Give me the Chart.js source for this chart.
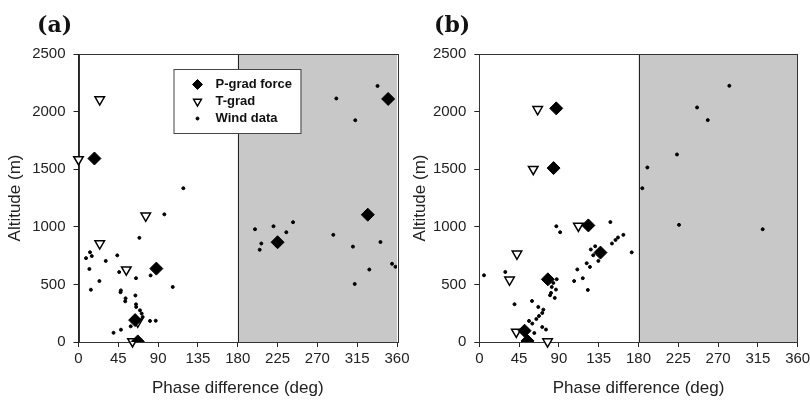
<!DOCTYPE html>
<html>
<head>
<meta charset="utf-8">
<script src="https://cdn.jsdelivr.net/npm/chart.js@4.4.0/dist/chart.umd.min.js"></script>
<style>
  body { margin: 0; background: #fff; width: 810px; height: 402px; position: relative; overflow: hidden; }
  canvas { position: absolute; top: 0; }
  .tag { position: absolute; top: 11px; font: bold 22px "DejaVu Serif", serif; line-height: 26px; color: #111; }
</style>
</head>
<body>
<!-- the canvases overlap a little so the last phase label of (a) is not cut -->
<canvas id="chartA" width="420" height="402" style="left:0"></canvas>
<canvas id="chartB" width="405" height="402" style="left:405px"></canvas>
<div class="tag" style="left:37px">(a)</div>
<div class="tag" style="left:434px">(b)</div>
<script>
// phase axis ticks and the out-of-phase band
const phaseTicks = [0, 45, 90, 135, 180, 225, 270, 315, 360];
const altTicks = [0, 500, 1000, 1500, 2000, 2500];
const bandFrom = 180;
const bandTo = 360;

// (a) pressure-gradient force
const aPGradPhase = [18, 88, 64, 67, 225, 327, 350];
const aPGradAlt   = [1593, 637, 190, 5, 866, 1105, 2110];
// (a) temperature gradient
const aTGradPhase = [24, 0, 76, 24, 54, 67, 61];
const aTGradAlt   = [2105, 1585, 1095, 855, 628, 175, 5];
// (a) wind observations
const aWindPhase = [118.5, 97, 68.8, 13, 15, 8.5, 30.8, 43.8, 12.3, 46, 23.6, 65, 81.5, 106.5, 14,
                    47.9, 47.5, 53.2, 52.8, 64.3, 65, 65.2, 69.5, 71.4, 72.5, 80.8, 87.3, 59, 48, 39.6,
                    199.5, 206.6, 204.8, 220.4, 234.9, 242.5, 288, 291.4, 312.8, 338, 310.2, 341.3,
                    328.7, 312.2, 354.4, 358.3];
const aWindAlt   = [1335, 1108, 904, 779, 746, 728, 704, 752, 634, 607, 529, 554, 578, 478, 454,
                    448, 432, 379, 353, 404, 327, 304, 275, 247, 217, 183, 185, 136, 107, 80,
                    979, 855, 801, 1005, 953, 1040, 930, 2114, 1925, 2223, 828, 868,
                    629, 504, 679, 653];

// (b) pressure-gradient force
const bPGradPhase = [87, 84, 123.3, 137, 77.5, 51.2, 54.5];
const bPGradAlt   = [2028, 1510, 1012, 776, 544, 98, 9];
// (b) temperature gradient
const bTGradPhase = [66, 61, 112, 42.6, 34.2, 41.8, 77.2];
const bTGradAlt   = [2020, 1500, 1008, 765, 540, 87, 4];
// (b) wind observations
const bWindPhase = [5.3, 29.4, 39.8, 59.6, 66.7, 72.4, 71.2, 67.5, 64.5, 59.9, 56.2, 62.2, 71.2, 75.4,
                    87.5, 83.7, 81.9, 86.7, 81.1, 85.3, 80, 87.1, 91.4, 107.2, 110.8, 117, 122.7,
                    121.4, 125.1, 126.1, 131, 128.8, 134.6, 148.2, 150, 154, 156.8, 162.9, 172.3,
                    282.7, 246.2, 258.3, 223.5, 190, 184.3, 225.8, 320.4];
const bWindAlt   = [579, 608, 328, 356, 304, 281, 252, 226, 200, 160, 183, 78, 130, 108,
                    545, 513, 478, 455, 426, 383, 406, 1005, 953, 529, 630, 554, 452,
                    684, 652, 803, 831, 753, 704, 1041, 855, 886, 907, 930, 778,
                    2224, 2036, 1926, 1628, 1515, 1335, 1017, 979];

const seriesNames = ['P-grad force', 'T-grad', 'Wind data'];
const legendRadius = [5, 4.5, 1.5];

Chart.defaults.font.family = '"Liberation Sans", Arial, sans-serif';
Chart.defaults.color = '#222';

function pairs(xs, ys) {
    return xs.map((v, i) => ({x: v, y: ys[i]}));
}

function makeDatasets(pPhase, pAlt, tPhase, tAlt, wPhase, wAlt) {
    return [
        {
            label: seriesNames[0],
            data: pairs(pPhase, pAlt),
            pointStyle: 'rectRot',
            pointRadius: 6.5,
            backgroundColor: '#000',
            borderColor: '#000',
            borderWidth: 1,
        },
        {
            label: seriesNames[1],
            data: pairs(tPhase, tAlt),
            pointStyle: 'triangle',
            rotation: 180,
            pointRadius: 5.5,
            backgroundColor: '#fff',
            borderColor: '#000',
            borderWidth: 1.5,
            clip: false,
        },
        {
            label: seriesNames[2],
            data: pairs(wPhase, wAlt),
            pointStyle: 'circle',
            pointRadius: 1.5,
            backgroundColor: '#000',
            borderColor: '#000',
            borderWidth: 1,
        }
    ];
}

// grey band for 180-360 deg plus the frame round the plot
const bandPlugin = {
    id: 'band',
    beforeDatasetsDraw(chart) {
        const {ctx, chartArea, scales: {x}} = chart;
        const x0 = x.getPixelForValue(bandFrom);
        const x1 = x.getPixelForValue(bandTo);
        ctx.save();
        ctx.fillStyle = '#c8c8c8';
        ctx.fillRect(x0, chartArea.top, x1 - x0, chartArea.bottom - chartArea.top);
        ctx.strokeStyle = '#222';
        ctx.lineWidth = 1;
        ctx.beginPath();
        ctx.moveTo(Math.round(x0) + 0.5, chartArea.top);
        ctx.lineTo(Math.round(x0) + 0.5, chartArea.bottom);
        ctx.stroke();
        ctx.strokeStyle = '#333';
        ctx.strokeRect(Math.round(chartArea.left) + 0.5, Math.round(chartArea.top) + 0.5,
            Math.round(chartArea.right - chartArea.left), Math.round(chartArea.bottom - chartArea.top));
        ctx.restore();
    }
};

// boxed legend inside the left panel
const boxLegend = {
    id: 'boxLegend',
    afterDatasetsDraw(chart) {
        const {ctx, chartArea} = chart;
        const bx = chartArea.left + 95;
        const by = chartArea.top + 15;
        ctx.save();
        ctx.fillStyle = '#fff';
        ctx.fillRect(bx, by, 127, 64);
        ctx.strokeStyle = '#444';
        ctx.lineWidth = 1;
        ctx.strokeRect(bx + 0.5, by + 0.5, 127, 64);
        ctx.font = 'bold 13px "Liberation Sans", Arial, sans-serif';
        ctx.textBaseline = 'middle';
        chart.data.datasets.forEach((ds, i) => {
            const cy = by + 15.5 + i * 17;
            ctx.fillStyle = ds.backgroundColor;
            ctx.strokeStyle = ds.borderColor;
            ctx.lineWidth = ds.borderWidth;
            Chart.helpers.drawPoint(ctx, {
                pointStyle: ds.pointStyle,
                rotation: ds.rotation || 0,
                radius: legendRadius[i],
                borderWidth: ds.borderWidth
            }, bx + 24, cy);
            ctx.fillStyle = '#111';
            ctx.fillText(ds.label, bx + 42, cy);
        });
        ctx.restore();
    }
};

function panelOptions(canvasWidth, plotLeft, plotRight) {
    return {
        responsive: false,
        animation: false,
        events: [],
        layout: {padding: {top: 54, right: canvasWidth - plotRight, bottom: 0, left: 0}},
        plugins: {legend: {display: false}, tooltip: {enabled: false}},
        scales: {
            x: {
                type: 'linear',
                min: 0,
                max: 360,
                afterFit: function (s) {
                    s.height = 60;
                    s.paddingLeft = 0;
                    s.paddingRight = 0;
                },
                afterBuildTicks: function (s) { s.ticks = phaseTicks.map(v => ({value: v})); },
                ticks: {font: {size: 15}, padding: 3, maxRotation: 0, callback: v => String(v)},
                grid: {drawOnChartArea: false, tickLength: 5, color: '#222'},
                border: {color: '#222'},
                title: {display: true, text: 'Phase difference (deg)', font: {size: 17}, padding: {top: 4, bottom: 3}},
            },
            y: {
                type: 'linear',
                min: 0,
                max: 2500,
                afterFit: function (s) {
                    s.width = plotLeft;
                    s.paddingTop = 0;
                    s.paddingBottom = 0;
                },
                afterBuildTicks: function (s) { s.ticks = altTicks.map(v => ({value: v})); },
                ticks: {font: {size: 15}, padding: 8, callback: v => String(v)},
                grid: {drawOnChartArea: false, tickLength: 5, color: '#222'},
                border: {color: '#222'},
                title: {display: true, text: 'Altitude (m)', font: {size: 17}, padding: {top: 5, bottom: 4}},
            }
        }
    };
}

new Chart(document.getElementById('chartA'), {
    type: 'scatter',
    data: {datasets: makeDatasets(aPGradPhase, aPGradAlt, aTGradPhase, aTGradAlt, aWindPhase, aWindAlt)},
    options: panelOptions(420, 78.5, 397),
    plugins: [bandPlugin, boxLegend]
});

new Chart(document.getElementById('chartB'), {
    type: 'scatter',
    data: {datasets: makeDatasets(bPGradPhase, bPGradAlt, bTGradPhase, bTGradAlt, bWindPhase, bWindAlt)},
    options: panelOptions(405, 74.3, 392.7),
    plugins: [bandPlugin]
});
</script>
</body>
</html>
